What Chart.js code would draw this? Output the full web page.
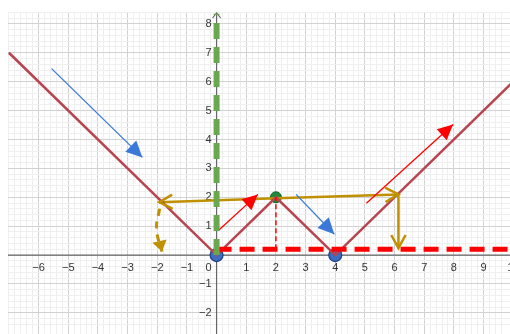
<!DOCTYPE html>
<html>
<head>
<meta charset="utf-8">
<script src="https://cdn.jsdelivr.net/npm/chart.js@4.4.0/dist/chart.umd.min.js"></script>
<style>
  html, body { margin: 0; padding: 0; background: #fff; overflow: hidden; }
  canvas { display: block; }
</style>
</head>
<body>
<canvas id="graph" width="510" height="334"></canvas>
<script>
// f(x) = ||x - 2| - 2|, corner points
const fX = [-7, 0, 2, 4, 10];
const fY = [7, 0, 2, 0, 6];

// axis numbers
const xTickLabels = [-6, -5, -4, -3, -2, -1, 1, 2, 3, 4, 5, 6, 7, 8, 9, 10];
const yTickLabels = [-2, -1, 1, 2, 3, 4, 5, 6, 7, 8];

// marked points
const bluePts = [[0, 0], [4, 0]];
const greenPt = [[2, 2]];

// dashed guides
const greenGuide = [[0, 0], [0, 8.35]];
const redGuide = [[0, 0.2], [10, 0.2]];
const redDrop = [[2, 0.2], [2, 2]];

// arrows [start, end]
const blueArrowA = [[-5.56, 6.45], [-2.5, 3.38]];
const blueArrowB = [[2.68, 2.1], [3.97, 0.72]];
const redArrowA = [[0.07, 0.86], [1.39, 2.1]];
const redArrowB = [[5.05, 1.79], [7.97, 4.52]];
const goldLeft = [[2, 1.97], [-1.93, 1.83]];
const goldRight = [[2, 1.97], [6.13, 2.1]];
const goldDown = [[6.13, 2.1], [6.13, 0.24]];
const goldCurve = [[-1.92, 1.6], [-2.02, 0.9], [-1.84, 0.12]];

const pts = a => a.map(p => ({x: p[0], y: p[1]}));

const GOLD = '#bf9000';

function seg(data, color, width, extra) {
  return Object.assign({
    type: 'line', data: pts(data), borderColor: color, backgroundColor: color,
    borderWidth: width, pointRadius: 0, tension: 0, fill: false
  }, extra || {});
}

// axes, arrow at the top of the y axis, and the numbers next to the axes
const axesPlugin = {
  id: 'axes',
  beforeDatasetsDraw(chart) {
    const {ctx, chartArea: a, scales: {x, y}} = chart;
    const x0 = x.getPixelForValue(0), y0 = y.getPixelForValue(0);
    ctx.save();
    ctx.strokeStyle = '#666';
    ctx.lineWidth = 1.2;
    ctx.beginPath();
    ctx.moveTo(a.left, y0); ctx.lineTo(a.right, y0);
    ctx.moveTo(x0, a.bottom); ctx.lineTo(x0, a.top + 1);
    ctx.moveTo(x0 - 4, a.top + 6); ctx.lineTo(x0, a.top + 1); ctx.lineTo(x0 + 4, a.top + 6);
    ctx.stroke();

    ctx.fillStyle = '#333';
    ctx.font = '11px "Liberation Sans", Arial, sans-serif';
    ctx.textAlign = 'center';
    ctx.textBaseline = 'top';
    xTickLabels.forEach(v => {
      const s = v < 0 ? '\u2212' + (-v) : String(v);
      ctx.fillText(s, x.getPixelForValue(v), y0 + 7);
    });
    ctx.fillText('0', x0 - 8, y0 + 7);
    ctx.textAlign = 'right';
    ctx.textBaseline = 'middle';
    yTickLabels.forEach(v => {
      const s = v < 0 ? '\u2212' + (-v) : String(v);
      ctx.fillText(s, x0 - 5, y.getPixelForValue(v));
    });
    ctx.restore();
  }
};

// arrowheads on datasets flagged with `head`
const headPlugin = {
  id: 'heads',
  afterDatasetsDraw(chart) {
    const ctx = chart.ctx;
    chart.data.datasets.forEach((ds, i) => {
      if (!ds.head) return;
      const el = chart.getDatasetMeta(i).data;
      const p = el[el.length - 1], q = el[el.length - 2];
      const ang = Math.atan2(p.y - q.y, p.x - q.x);
      const len = ds.headLen || 12, spread = ds.headSpread || 0.45;
      ctx.save();
      ctx.strokeStyle = ds.borderColor;
      ctx.fillStyle = ds.borderColor;
      ctx.lineWidth = ds.borderWidth;
      ctx.setLineDash([]);
      ctx.beginPath();
      ctx.moveTo(p.x - len * Math.cos(ang - spread), p.y - len * Math.sin(ang - spread));
      ctx.lineTo(p.x, p.y);
      ctx.lineTo(p.x - len * Math.cos(ang + spread), p.y - len * Math.sin(ang + spread));
      if (ds.head === 'filled') { ctx.closePath(); ctx.fill(); }
      else { ctx.lineJoin = 'miter'; ctx.stroke(); }
      ctx.restore();
    });
  }
};

const gridColor = c => Math.abs(c.tick.value - Math.round(c.tick.value)) < 1e-6 ? '#d2d2d2' : '#efefef';

new Chart(document.getElementById('graph'), {
  type: 'scatter',
  data: {
    datasets: [
      seg(greenGuide, '#6aa84f', 6, {borderDash: [16, 8]}),
      seg(redGuide, '#ff0000', 5, {borderDash: [15, 8]}),
      seg(redDrop, '#ff0000', 1.5, {borderDash: [5, 3]}),
      seg(fX.map((v, i) => [v, fY[i]]), '#b8444f', 2.5),
      seg(blueArrowA, '#3c78d8', 1.3, {head: 'filled', headLen: 18, headSpread: 0.45}),
      seg(blueArrowB, '#3c78d8', 1.3, {head: 'filled', headLen: 18, headSpread: 0.45}),
      seg(redArrowA, '#ff0000', 1.3, {head: 'filled', headLen: 17, headSpread: 0.45}),
      seg(redArrowB, '#ff0000', 1.3, {head: 'filled', headLen: 17, headSpread: 0.45}),
      seg(goldLeft, GOLD, 2.5, {head: 'open', headLen: 15, headSpread: 0.5}),
      seg(goldRight, GOLD, 2.5, {head: 'open', headLen: 15, headSpread: 0.5}),
      seg(goldDown, GOLD, 2.5, {head: 'open', headLen: 15, headSpread: 0.5}),
      seg(goldCurve, GOLD, 3, {tension: 0.5, borderDash: [7, 6], head: 'filled', headLen: 13, headSpread: 0.6}),
      {type: 'scatter', data: pts(greenPt), pointRadius: 5.5, pointStyle: 'ellipse',
       backgroundColor: '#1d8a3c', borderColor: '#126128', borderWidth: 1},
      {type: 'scatter', data: pts(bluePts), pointRadius: 6.5,
       backgroundColor: '#3d6cc0', borderColor: '#1f3f80', borderWidth: 1.2}
    ]
  },
  options: {
    responsive: false,
    animation: false,
    devicePixelRatio: 1,
    layout: {autoPadding: false, padding: {left: 8, top: 12, right: 0, bottom: 0}},
    plugins: {legend: {display: false}, tooltip: {enabled: false}},
    scales: {
      x: {
        type: 'linear', min: -7.03, max: 9.89,
        ticks: {display: false, stepSize: 0.2},
        border: {display: false},
        grid: {drawTicks: false, color: gridColor, lineWidth: 1}
      },
      y: {
        type: 'linear', min: -2.73, max: 8.41,
        ticks: {display: false, stepSize: 0.2},
        border: {display: false},
        grid: {drawTicks: false, color: gridColor, lineWidth: 1}
      }
    }
  },
  plugins: [axesPlugin, headPlugin]
});
</script>
</body>
</html>
